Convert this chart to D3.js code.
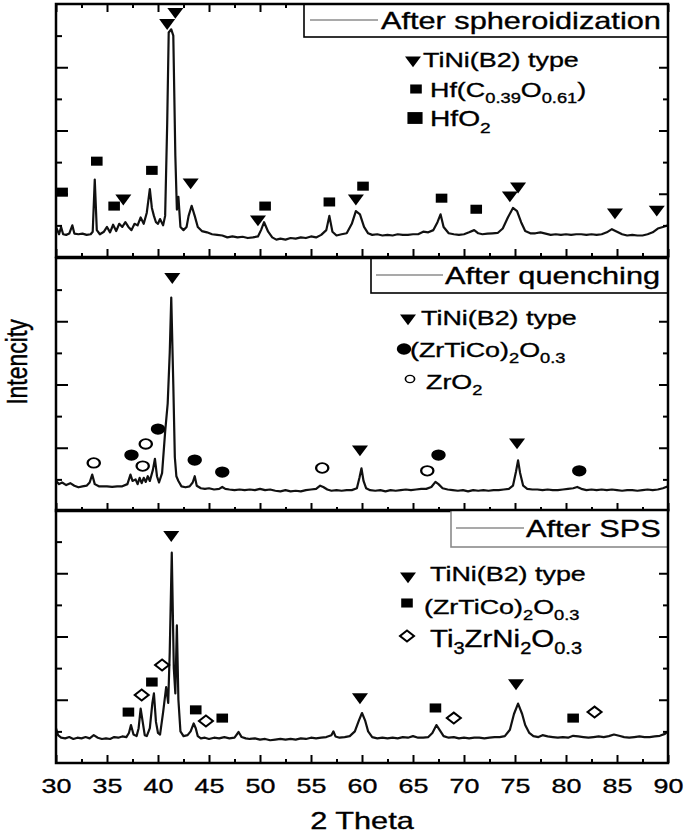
<!DOCTYPE html>
<html>
<head>
<meta charset="utf-8">
<script src="https://cdn.jsdelivr.net/npm/d3@7"></script>
<style>
  body { margin: 0; background: #fff; }
  text { font-family: "Liberation Sans", Arial, sans-serif; fill: #000; stroke: #000; stroke-width: 0.35px; }
</style>
</head>
<body>
<script>
// XRD patterns, [2theta, intensity] (intensity in tick units, 0-8 per panel)
const spheroidPattern = [[30.0,0.95],[30.3,0.72],[30.5,0.95],[30.7,0.72],[31.0,0.70],[31.3,0.74],[31.6,1.0],[31.8,0.74],[32.2,0.72],[32.6,0.74],[33.0,0.70],[33.4,0.72],[33.6,0.80],[33.8,2.45],[34.0,0.85],[34.3,0.72],[34.7,0.80],[35.0,0.95],[35.3,0.78],[35.6,1.02],[35.9,0.82],[36.2,1.05],[36.5,0.95],[36.8,1.10],[37.1,0.95],[37.4,0.85],[37.7,1.05],[38.0,1.0],[38.3,1.25],[38.6,1.05],[38.9,1.40],[39.2,2.15],[39.4,1.55],[39.6,1.30],[39.8,1.10],[40.0,1.05],[40.2,1.2],[40.5,1.0],[40.7,1.3],[40.9,4.2],[41.05,7.1],[41.3,7.2],[41.5,7.0],[41.7,3.2],[41.85,1.5],[42.0,1.9],[42.2,0.95],[42.5,0.85],[42.8,0.95],[43.0,1.3],[43.3,1.62],[43.6,1.3],[43.9,0.95],[44.3,0.82],[44.8,0.78],[45.3,0.72],[45.8,0.70],[46.3,0.68],[46.8,0.62],[47.3,0.65],[47.8,0.62],[48.3,0.64],[48.8,0.60],[49.3,0.62],[49.8,0.65],[50.1,0.85],[50.4,1.10],[50.8,0.80],[51.2,0.62],[51.6,0.55],[52.0,0.58],[52.5,0.55],[53.0,0.60],[53.5,0.58],[54.0,0.62],[54.5,0.60],[55.0,0.65],[55.5,0.62],[56.0,0.70],[56.5,0.85],[56.8,1.30],[57.1,0.80],[57.5,0.68],[58.0,0.72],[58.5,0.75],[59.0,1.05],[59.4,1.45],[59.8,1.35],[60.2,0.95],[60.6,0.75],[61.0,0.70],[61.5,0.72],[62.0,0.68],[62.5,0.70],[63.0,0.68],[63.5,0.72],[64.0,0.70],[64.5,0.70],[65.0,0.72],[65.5,0.72],[66.0,0.80],[66.5,0.78],[67.0,0.85],[67.4,1.10],[67.7,1.35],[68.0,0.95],[68.5,0.75],[69.0,0.72],[69.5,0.70],[70.0,0.72],[70.5,0.78],[71.0,0.85],[71.4,0.75],[71.8,0.72],[72.3,0.74],[72.8,0.75],[73.3,0.76],[73.8,0.90],[74.3,1.25],[74.8,1.55],[75.2,1.45],[75.6,1.10],[76.0,0.82],[76.5,0.75],[77.0,0.75],[77.5,0.78],[78.0,0.74],[78.5,0.70],[79.0,0.72],[79.5,0.70],[80.0,0.72],[80.5,0.70],[81.0,0.72],[81.5,0.72],[82.0,0.70],[82.5,0.72],[83.0,0.70],[83.5,0.72],[84.0,0.78],[84.5,0.88],[85.0,0.80],[85.5,0.72],[86.0,0.68],[86.5,0.70],[87.0,0.68],[87.5,0.68],[88.0,0.72],[88.5,0.78],[89.0,0.90],[89.5,0.95],[90.0,1.0]];

const quenchPattern = [[30.0,0.95],[30.3,0.85],[30.6,0.90],[31.0,0.82],[31.4,0.88],[31.8,0.80],[32.2,0.75],[32.6,0.78],[33.0,0.80],[33.3,0.90],[33.55,1.15],[33.8,0.85],[34.2,0.78],[34.6,0.78],[35.0,0.78],[35.5,0.76],[36.0,0.78],[36.5,0.78],[37.0,0.85],[37.3,1.15],[37.5,0.95],[37.8,1.0],[38.0,0.85],[38.2,1.05],[38.4,0.88],[38.6,1.05],[38.8,0.92],[39.0,1.1],[39.2,0.95],[39.5,1.3],[39.7,1.65],[39.9,1.1],[40.1,0.9],[40.4,1.2],[40.7,2.5],[40.95,3.4],[41.15,5.0],[41.3,6.75],[41.5,4.0],[41.65,1.7],[41.8,1.1],[42.0,0.95],[42.3,0.78],[42.7,0.75],[43.1,0.78],[43.4,0.90],[43.6,1.10],[43.8,0.80],[44.2,0.72],[44.6,0.70],[45.0,0.72],[45.5,0.68],[46.0,0.70],[46.3,0.76],[46.6,0.70],[47.0,0.68],[47.5,0.66],[48.0,0.68],[48.5,0.66],[49.0,0.68],[49.5,0.66],[50.0,0.70],[50.5,0.66],[51.0,0.68],[51.5,0.64],[52.0,0.62],[52.5,0.66],[53.0,0.62],[53.5,0.64],[54.0,0.62],[54.5,0.66],[55.0,0.68],[55.5,0.70],[55.9,0.80],[56.2,0.76],[56.6,0.68],[57.0,0.64],[57.5,0.66],[58.0,0.64],[58.5,0.66],[59.0,0.66],[59.5,0.72],[59.75,1.05],[59.95,1.35],[60.15,0.95],[60.4,0.72],[60.8,0.66],[61.3,0.64],[61.8,0.66],[62.3,0.62],[62.8,0.66],[63.3,0.64],[63.8,0.66],[64.3,0.68],[64.8,0.66],[65.3,0.68],[65.8,0.70],[66.3,0.70],[66.8,0.76],[67.2,0.92],[67.5,0.85],[67.9,0.72],[68.4,0.68],[68.9,0.66],[69.4,0.64],[69.9,0.66],[70.4,0.62],[70.9,0.66],[71.4,0.64],[71.9,0.66],[72.4,0.64],[72.9,0.66],[73.4,0.66],[73.9,0.68],[74.4,0.70],[74.8,0.80],[75.1,1.25],[75.3,1.60],[75.5,1.20],[75.8,0.80],[76.2,0.70],[76.7,0.68],[77.2,0.68],[77.7,0.66],[78.2,0.68],[78.7,0.66],[79.2,0.66],[79.7,0.68],[80.2,0.70],[80.7,0.72],[81.1,0.76],[81.5,0.70],[82.0,0.66],[82.5,0.68],[83.0,0.66],[83.5,0.68],[84.0,0.66],[84.5,0.68],[85.0,0.66],[85.5,0.64],[86.0,0.66],[86.5,0.66],[87.0,0.64],[87.5,0.66],[88.0,0.68],[88.5,0.66],[89.0,0.68],[89.5,0.72],[90.0,0.78]];

const spsPattern = [[30.0,1.10],[30.2,0.88],[30.5,0.80],[30.9,0.78],[31.3,0.82],[31.7,0.76],[32.1,0.80],[32.5,0.78],[32.9,0.82],[33.3,0.78],[33.7,0.88],[34.1,0.80],[34.5,0.76],[34.9,0.78],[35.3,0.76],[35.7,0.82],[36.1,0.80],[36.5,0.84],[36.9,0.82],[37.15,0.95],[37.35,1.20],[37.6,0.90],[37.9,0.85],[38.1,1.1],[38.3,1.72],[38.5,1.30],[38.7,0.88],[38.9,0.85],[39.2,1.1],[39.45,1.9],[39.6,2.2],[39.8,1.3],[40.0,0.95],[40.2,0.9],[40.5,1.6],[40.8,2.4],[41.0,1.9],[41.15,3.5],[41.35,6.65],[41.55,3.0],[41.7,2.2],[41.85,4.35],[42.0,2.0],[42.2,1.0],[42.5,0.85],[42.9,0.88],[43.2,1.0],[43.5,1.25],[43.7,1.10],[43.9,0.85],[44.2,0.78],[44.6,0.80],[45.0,0.76],[45.5,0.80],[46.0,0.78],[46.5,0.82],[47.0,0.78],[47.5,0.80],[47.9,0.98],[48.2,0.82],[48.6,0.78],[49.0,0.76],[49.5,0.78],[50.0,0.74],[50.5,0.76],[51.0,0.72],[51.5,0.74],[52.0,0.76],[52.5,0.74],[53.0,0.76],[53.5,0.74],[54.0,0.78],[54.5,0.76],[55.0,0.80],[55.5,0.78],[56.0,0.80],[56.5,0.82],[57.0,0.88],[57.2,1.0],[57.4,0.84],[57.8,0.80],[58.3,0.82],[58.8,0.85],[59.3,1.0],[59.7,1.35],[60.0,1.58],[60.3,1.35],[60.6,1.0],[61.0,0.82],[61.5,0.78],[62.0,0.80],[62.5,0.78],[63.0,0.80],[63.5,0.78],[64.0,0.82],[64.5,0.80],[65.0,0.85],[65.5,0.80],[66.0,0.80],[66.5,0.82],[66.9,0.95],[67.3,1.20],[67.7,1.0],[68.0,0.85],[68.5,0.80],[69.0,0.82],[69.5,0.78],[70.0,0.80],[70.5,0.78],[71.0,0.80],[71.5,0.80],[72.0,0.78],[72.5,0.80],[73.0,0.82],[73.5,0.82],[74.0,0.85],[74.5,1.05],[74.9,1.55],[75.3,1.88],[75.7,1.55],[76.0,1.2],[76.4,0.95],[76.8,0.85],[77.3,0.82],[77.7,0.88],[78.2,0.84],[78.7,0.82],[79.2,0.80],[79.7,0.82],[80.2,0.80],[80.7,0.86],[81.2,0.84],[81.7,0.82],[82.2,0.80],[82.7,0.82],[83.2,0.84],[83.7,0.82],[84.2,0.85],[84.7,0.90],[85.2,0.86],[85.7,0.82],[86.2,0.80],[86.7,0.82],[87.2,0.84],[87.7,0.82],[88.2,0.82],[88.7,0.84],[89.2,0.86],[89.7,0.92],[90.0,1.0]];

// phase markers, [2theta, height of the marker]
const spheroidTiNi = [[36.6,1.86],[40.9,7.41],[41.7,7.76],[43.2,2.37],[49.8,1.20],[59.4,1.86],[74.5,1.96],[75.3,2.24],[84.8,1.42],[88.9,1.51]];
const spheroidHf = [[30.6,2.05],[34.0,3.03],[35.7,1.61],[39.4,2.74],[50.5,1.61],[56.8,1.74],[60.1,2.24],[67.8,1.86],[71.2,1.51]];
const quenchTiNi = [[41.4,7.41],[59.8,1.96],[75.2,2.18]];
const quenchZrTiCo = [[37.4,1.77],[40.0,2.59],[43.6,1.61],[46.3,1.23],[67.5,1.77],[81.3,1.27]];
const quenchZrO2 = [[33.7,1.52],[38.5,1.42],[38.8,2.12],[56.1,1.36],[66.4,1.27]];
const spsTiNi = [[41.3,7.22],[59.8,2.09],[75.1,2.53]];
const spsZrTiCo = [[37.1,1.61],[39.4,2.56],[43.7,1.68],[46.3,1.42],[67.2,1.74],[80.7,1.42]];
const spsTiZrNi = [[38.4,2.15],[40.4,3.10],[44.7,1.33],[69.0,1.42],[82.8,1.61]];

const xTickValues = d3.range(30, 91, 5);
const sampleNames = ["After spheroidization", "After quenching", "After SPS"];

const W = 685, H = 833;
const SX = 1.28; // the source picture is stretched horizontally
const left = 56, right = 668;
const panelTops = [4, 258, 510], panelH = 253;

const svg = d3.select("body").append("svg").attr("width", W).attr("height", H);

const x = d3.scaleLinear().domain([30, 90]).range([left, right]);

const shapes = {
  tri: {d: d3.symbol().type(d3.symbolTriangle).size(68)(), rot: 180, fill: "#000", stroke: "none"},
  sq: {d: d3.symbol().type(d3.symbolSquare).size(82)(), rot: 0, fill: "#000", stroke: "none"},
  circ: {d: d3.symbol().type(d3.symbolCircle).size(100)(), rot: 0, fill: "#000", stroke: "none"},
  ocirc: {d: d3.symbol().type(d3.symbolCircle).size(72)(), rot: 0, fill: "#fff", stroke: "#000"},
  diam: {d: d3.symbol().type(d3.symbolSquare).size(60)(), rot: 45, fill: "#fff", stroke: "#000"}
};

// text with sub-scripts, stretched like the picture
function label(g, px, py, parts, size, anchor) {
  const t = g.append("text")
    .attr("transform", `translate(${px},${py}) scale(${SX},1)`)
    .attr("font-size", size)
    .attr("text-anchor", anchor || "start");
  let low = false;
  parts.forEach(p => {
    const sub = Array.isArray(p);
    const s = t.append("tspan").text(sub ? p[0] : p);
    if (sub) {
      s.attr("font-size", size * 0.68);
      if (!low) s.attr("dy", size * 0.3);
      low = true;
    } else if (low) {
      s.attr("dy", -size * 0.3);
      low = false;
    }
  });
  return t;
}

function marker(g, kind, px, py) {
  const s = shapes[kind];
  g.append("path")
    .attr("d", s.d)
    .attr("transform", `translate(${px},${py}) scale(${SX},1) rotate(${s.rot})`)
    .attr("fill", s.fill)
    .attr("stroke", s.stroke)
    .attr("stroke-width", 1.8);
}

const panels = [
  {pattern: spheroidPattern, sets: [["tri", spheroidTiNi], ["sq", spheroidHf]],
   box: {x0: 304, y1: 37, line: [310, 378], ly: 20, tx: 381, ty: 29},
   legend: [
     ["tri", 413, 60, 423, 67, ["TiNi(B2) type"], 21],
     ["sq", 416, 89, 430, 97, ["Hf(C", ["0.39"], "O", ["0.61"], ")"], 21],
     ["sqBig", 415, 118, 430, 126, ["HfO", ["2"]], 22]
   ]},
  {pattern: quenchPattern, sets: [["tri", quenchTiNi], ["circ", quenchZrTiCo], ["ocirc", quenchZrO2]],
   box: {x0: 371, y1: 293, line: [376, 443], ly: 275, tx: 445, ty: 284},
   legend: [
     ["tri", 408, 318, 421, 325, ["TiNi(B2) type"], 21],
     ["circ", 404, 349, 410, 357, ["(ZrTiCo)", ["2"], "O", ["0.3"]], 21],
     ["ocircS", 410, 379, 426, 389, ["ZrO", ["2"]], 21]
   ]},
  {pattern: spsPattern, sets: [["tri", spsTiNi], ["sq", spsZrTiCo], ["diam", spsTiZrNi]],
   box: {x0: 451, y1: 547, line: [456, 524], ly: 528, tx: 526, ty: 537, grey: true},
   legend: [
     ["tri", 408, 576, 430, 581, ["TiNi(B2) type"], 21],
     ["sq", 407, 603, 424, 614, ["(ZrTiCo)", ["2"], "O", ["0.3"]], 21],
     ["diam", 407, 636, 430, 647, ["Ti", ["3"], "ZrNi", ["2"], "O", ["0.3"]], 23]
   ]}
];

panels.forEach((p, i) => {
  const top = panelTops[i], bottom = top + panelH;
  const y = d3.scaleLinear().domain([0, 8]).range([bottom, top]);
  const g = svg.append("g");

  g.append("clipPath").attr("id", "clip" + i)
    .append("rect").attr("x", left).attr("y", top).attr("width", right - left).attr("height", panelH);

  g.append("path")
    .datum(p.pattern)
    .attr("clip-path", `url(#clip${i})`)
    .attr("fill", "none")
    .attr("stroke", "#111")
    .attr("stroke-width", 2.2)
    .attr("stroke-linejoin", "round")
    .attr("d", d3.line().x(d => x(d[0])).y(d => y(d[1])));

  p.sets.forEach(([kind, pts]) => {
    pts.forEach(d => marker(g, kind, x(d[0]), y(d[1])));
  });

  // inward ticks
  const bottomMajor = d3.axisBottom(x).tickValues(xTickValues).tickSize(-8)
    .tickFormat(i === 2 ? d3.format("d") : "").tickPadding(15);
  const bottomMinor = d3.axisBottom(x).tickValues(d3.range(32.5, 90, 5)).tickSize(-4).tickFormat("");
  const ax = g.append("g").attr("transform", `translate(0,${bottom})`).call(bottomMajor);
  g.append("g").attr("transform", `translate(0,${bottom})`).call(bottomMinor);
  if (i === 0) {
    g.append("g").attr("transform", `translate(0,${top})`)
      .call(d3.axisTop(x).tickValues(xTickValues).tickSize(-8).tickFormat(""));
    g.append("g").attr("transform", `translate(0,${top})`)
      .call(d3.axisTop(x).tickValues(d3.range(32.5, 90, 5)).tickSize(-4).tickFormat(""));
  }
  g.append("g").attr("transform", `translate(${left},0)`)
    .call(d3.axisLeft(y).tickValues([2, 4, 6]).tickSize(-12).tickFormat(""));
  g.append("g").attr("transform", `translate(${left},0)`)
    .call(d3.axisLeft(y).tickValues([1, 3, 5, 7]).tickSize(-6).tickFormat(""));
  g.append("g").attr("transform", `translate(${right},0)`)
    .call(d3.axisRight(y).tickValues([2, 4, 6]).tickSize(-9).tickFormat(""));
  g.append("g").attr("transform", `translate(${right},0)`)
    .call(d3.axisRight(y).tickValues([1, 3, 5, 7]).tickSize(-5).tickFormat(""));

  g.selectAll(".domain").remove();
  g.selectAll(".tick line").attr("stroke", "#000").attr("stroke-width", 2);
  ax.selectAll(".tick text")
    .attr("font-family", "Liberation Sans, Arial, sans-serif")
    .attr("font-size", 21)
    .attr("fill", "#000")
    .attr("transform", `scale(${SX},1)`);

  // sample box
  const b = p.box;
  g.append("rect").attr("x", b.x0).attr("y", top).attr("width", right - b.x0).attr("height", b.y1 - top)
    .attr("fill", "#fff").attr("stroke", b.grey ? "#8a8a8a" : "#000").attr("stroke-width", 1.6);
  g.append("line").attr("x1", b.line[0]).attr("x2", b.line[1]).attr("y1", b.ly).attr("y2", b.ly)
    .attr("stroke", "#555").attr("stroke-width", 1.2);
  label(g, b.tx, b.ty, [sampleNames[i]], 24);

  // phase legend
  p.legend.forEach(([kind, mx, my, tx, ty, parts, fs]) => {
    if (kind === "sqBig") {
      g.append("path").attr("d", d3.symbol().type(d3.symbolSquare).size(140)())
        .attr("transform", `translate(${mx},${my}) scale(${SX},1)`).attr("fill", "#000");
    } else if (kind === "ocircS") {
      g.append("path").attr("d", d3.symbol().type(d3.symbolCircle).size(40)())
        .attr("transform", `translate(${mx},${my}) scale(${SX},1)`)
        .attr("fill", "#fff").attr("stroke", "#000").attr("stroke-width", 1.3);
    } else {
      marker(g, kind, mx, my);
    }
    label(g, tx, ty, parts, fs);
  });

  g.append("rect").attr("x", left).attr("y", top).attr("width", right - left).attr("height", panelH)
    .attr("fill", "none").attr("stroke", "#000").attr("stroke-width", 2.5);
});

// axis titles
svg.append("text")
  .attr("transform", `translate(27,362) scale(${SX},1) rotate(-90)`)
  .attr("text-anchor", "middle")
  .attr("font-size", 23)
  .text("Intencity");

svg.append("text")
  .attr("transform", `translate(362,829) scale(${SX},1)`)
  .attr("text-anchor", "middle")
  .attr("font-size", 24)
  .text("2 Theta");
</script>
</body>
</html>
